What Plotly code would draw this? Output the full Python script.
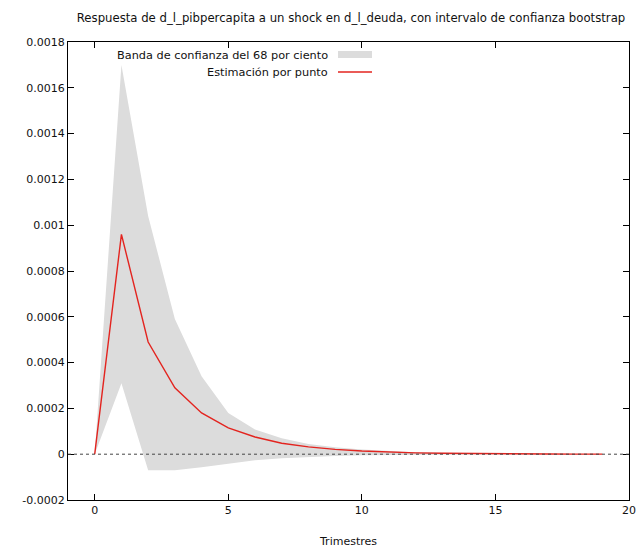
import plotly.graph_objects as go

periods = list(range(20))
point_est = [0.0, 0.00096, 0.00049, 0.00029, 0.00018, 0.000115, 0.000075, 0.000048,
             0.000032, 0.000021, 0.000014, 0.000009, 0.000006, 0.000004, 0.0000025,
             0.0000017, 0.0000011, 0.0000007, 0.0000005, 0.0000003]
band_upper = [0.0, 0.0017, 0.00104, 0.00059, 0.00034, 0.00018, 0.000108, 0.00007,
              0.000045, 0.00003, 0.00002, 0.000013, 0.000009, 0.000006, 0.000004,
              0.0000026, 0.0000017, 0.0000011, 0.0000007, 0.0000005]
band_lower = [0.0, 0.00031, -0.00007, -0.00007, -0.000057, -0.00004, -0.000026, -0.000018,
              -0.000012, -0.000008, -0.000005, -0.0000035, -0.0000024, -0.0000016,
              -0.000001, -0.0000007, -0.0000005, -0.0000003, -0.0000002, -0.0000001]
y_ticks = [-0.0002, 0, 0.0002, 0.0004, 0.0006, 0.0008, 0.001, 0.0012, 0.0014, 0.0016, 0.0018]
y_tick_labels = ["-0.0002", "0", "0.0002", "0.0004", "0.0006", "0.0008", "0.001",
                 "0.0012", "0.0014", "0.0016", "0.0018"]
x_ticks = [0, 5, 10, 15, 20]

FONT = "DejaVu Sans"
GRAY = "#dcdcdc"
RED = "#e3241f"

fig = go.Figure()
fig.add_trace(go.Scatter(x=periods, y=band_upper, mode="lines", line=dict(width=0, color=GRAY),
                         showlegend=False, hoverinfo="skip"))
fig.add_trace(go.Scatter(x=periods, y=band_lower, mode="lines", line=dict(width=0, color=GRAY),
                         fill="tonexty", fillcolor=GRAY, showlegend=False, hoverinfo="skip"))
fig.add_trace(go.Scatter(x=periods, y=point_est, mode="lines", line=dict(width=1.4, color=RED),
                         showlegend=False))

W, H = 639, 550
L, R, T, B = 68, 629, 42, 500
def px(x): return (x - L) / (R - L)
def py(y): return (B - y) / (B - T)

shapes = [
    dict(type="line", xref="paper", yref="y", x0=0, x1=1, y0=0, y1=0,
         line=dict(color="#444", width=1, dash="dot"), layer="above"),
    dict(type="rect", xref="paper", yref="paper", x0=px(338), x1=px(372), y0=py(58), y1=py(51),
         fillcolor=GRAY, line=dict(width=0)),
    dict(type="line", xref="paper", yref="paper", x0=px(338), x1=px(372), y0=py(72), y1=py(72),
         line=dict(color=RED, width=1.4)),
]
annotations = [
    dict(text="Banda de confianza del 68 por ciento", xref="paper", yref="paper",
         x=px(330), y=py(55), xanchor="right", yanchor="middle", showarrow=False,
         font=dict(family=FONT, size=11.3, color="#111")),
    dict(text="Estimación por punto", xref="paper", yref="paper",
         x=px(330), y=py(72), xanchor="right", yanchor="middle", showarrow=False,
         font=dict(family=FONT, size=11.3, color="#111")),
]

fig.update_layout(
    width=W, height=H, autosize=False,
    margin=dict(l=L, r=W - R, t=T, b=H - B, pad=0),
    paper_bgcolor="white", plot_bgcolor="white",
    font=dict(family=FONT, size=11, color="#111"),
    title=dict(text="Respuesta de d_l_pibpercapita a un shock en d_l_deuda, con intervalo de confianza bootstrap",
               x=351 / W, xanchor="center", y=1 - 18 / H, yanchor="middle",
               font=dict(family=FONT, size=11.7, color="#111")),
    shapes=shapes, annotations=annotations, showlegend=False,
    xaxis=dict(range=[-1, 20], tickvals=x_ticks, ticks="inside", ticklen=6,
               showline=True, linecolor="black", linewidth=1, mirror="ticks",
               showgrid=False, zeroline=False, tickcolor="black", automargin=False,
               title=dict(text="Trimestres", standoff=21, font=dict(family=FONT, size=11))),
    yaxis=dict(range=[-0.0002, 0.0018], tickvals=y_ticks, ticktext=y_tick_labels,
               ticks="inside", ticklen=6, showline=True, linecolor="black", linewidth=1,
               mirror="ticks", showgrid=False, zeroline=False, tickcolor="black",
               automargin=False),
)

fig.write_html("out.html")
